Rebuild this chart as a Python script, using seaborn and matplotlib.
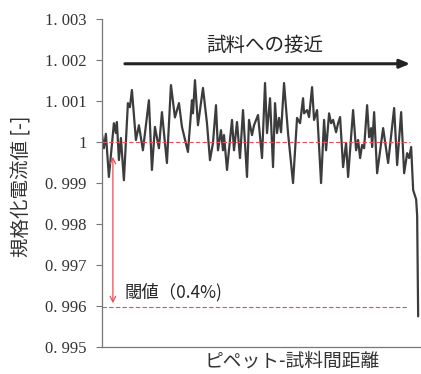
import matplotlib
matplotlib.use("Agg")
import matplotlib.pyplot as plt
import numpy as np
import pandas as pd
import seaborn as sns

# distance steps (arbitrary units, probe approaching the sample)
step = [0, 2, 4, 7, 12, 14, 15, 17, 19, 22, 26, 28, 30, 34, 37, 41, 47, 50, 53, 57,
        60, 65, 69, 73, 77, 80, 86, 90, 91, 93, 96, 101, 105, 108, 111, 114, 116, 119,
        121, 122, 125, 130, 132, 135, 138, 141, 145, 147, 150, 152, 156, 160, 163, 165,
        168, 171, 173, 175, 177, 179, 182, 186, 191, 195, 198, 201, 202, 205, 207, 210,
        212, 215, 219, 222, 224, 227, 229, 231, 234, 236, 238, 241, 244, 246, 251, 254,
        256, 258, 260, 262, 265, 267, 269, 270, 272, 275, 281, 286, 292, 295, 299, 302,
        305, 307, 309, 311, 314, 315, 316]
current = [1.0002, 0.99985, 1.0002, 0.99915, 1.00046, 1.00022, 1.00049, 0.99956, 1.0001,
           0.99907, 1.00095, 1.00085, 1.00127, 1.00005, 1.00041, 0.9998, 1.00102, 0.99932,
           1.00037, 0.99985, 1.00073, 0.99949, 1.00139, 1.0006, 1.00095, 1.00037, 0.99976,
           1.00102, 1.0007, 1.00151, 1.00041, 1.00132, 1.00046, 0.99956, 0.99998, 1.0009,
           0.9998, 1.00029, 0.9998, 1.00017, 0.99932, 1.00054, 0.9998, 1.00049, 0.99961,
           1.00078, 0.99915, 1.00054, 1.00017, 1.00041, 1.00066, 0.99961, 1.00144, 1.00022,
           1.00107, 0.99939, 1.00095, 1.00022, 1.00059, 1.00024, 1.00144, 1.00022, 0.999,
           1.00059, 1.00046, 1.00107, 1.0007, 1.00078, 1.00061, 1.00134, 1.00054, 1.00078,
           0.999, 1.00054, 0.9998, 1.0007, 1.00046, 1.00054, 1.00024, 1.00046, 1.00061,
           0.99939, 0.99998, 0.99915, 1.00078, 0.9998, 1.00005, 0.99961, 0.99993, 0.99985,
           1.0009, 1.00012, 1.00034, 0.99988, 1.00073, 0.99924, 1.00034, 0.99949, 1.00083,
           0.99944, 1.00073, 0.99924, 0.99973, 0.99961, 0.99988, 0.99883, 0.9986, 0.9982,
           0.99575]

yticks = [0.995, 0.996, 0.997, 0.998, 0.999, 1.000, 1.001, 1.002, 1.003]
yticklabels = ["0. 995", "0. 996", "0. 997", "0. 998", "0. 999", "1", "1. 001", "1. 002", "1. 003"]
baseline = 1.0
threshold = 0.99597

df = pd.DataFrame({"step": step, "current": current})

sns.set_style("white")
plt.rcParams['font.family'] = ['Noto Sans CJK JP', 'DejaVu Sans']

fig = plt.figure(figsize=(4.21, 3.74), dpi=100)
ax = fig.add_axes([0.242, 0.072, 0.756, 0.877])

sns.lineplot(data=df, x="step", y="current", color="#3c3c3c", linewidth=1.6, ax=ax)

red = "#e8505b"
ax.hlines(baseline, 0, 308, colors=red, linestyles=(0, (4, 2)), linewidth=0.8)
ax.hlines(threshold, 0, 305, colors=red, linestyles=(0, (4, 2)), linewidth=0.8)

# threshold arrow
ax.annotate("", xy=(11, 0.99607), xytext=(11, 0.99964),
            arrowprops=dict(arrowstyle="<->", color=red, lw=0.9, shrinkA=0, shrinkB=0))
ax.text(23, 0.99635, "閾値（0.4%)", fontsize=12.5, va="center", ha="left")

# approach arrow
ax.annotate("", xy=(308, 1.00191), xytext=(23, 1.00191),
            arrowprops=dict(arrowstyle="-|>,head_length=0.6,head_width=0.25",
                            color="#222222", lw=2.2, shrinkA=0, shrinkB=0))
ax.text(163, 1.00235, "試料への接近", fontsize=14, va="center", ha="center")

ax.set_xlim(0, 318)
ax.set_ylim(0.995, 1.003)
ax.set_xticks([])
ax.set_yticks(yticks)
ax.set_yticklabels(yticklabels, fontsize=12, family=['Liberation Serif'], color="#333333")
ax.tick_params(axis="y", direction="out", length=4, width=0.8, color="#777777", pad=7, left=True)
for s in ["top", "right"]:
    ax.spines[s].set_visible(False)
for s in ["left", "bottom"]:
    ax.spines[s].set_color("#777777")
    ax.spines[s].set_linewidth(0.9)
ax.set_xlabel("")
ax.set_ylabel("")

fig.text(0.052, 0.503, "規格化電流値 [-]", rotation=90, fontsize=14, ha="center", va="center", color="#333333")
fig.text(0.694, 0.035, "ピペット-試料間距離", fontsize=13.5, ha="center", va="center", color="#333333")

fig.savefig("out.png", dpi=100)
